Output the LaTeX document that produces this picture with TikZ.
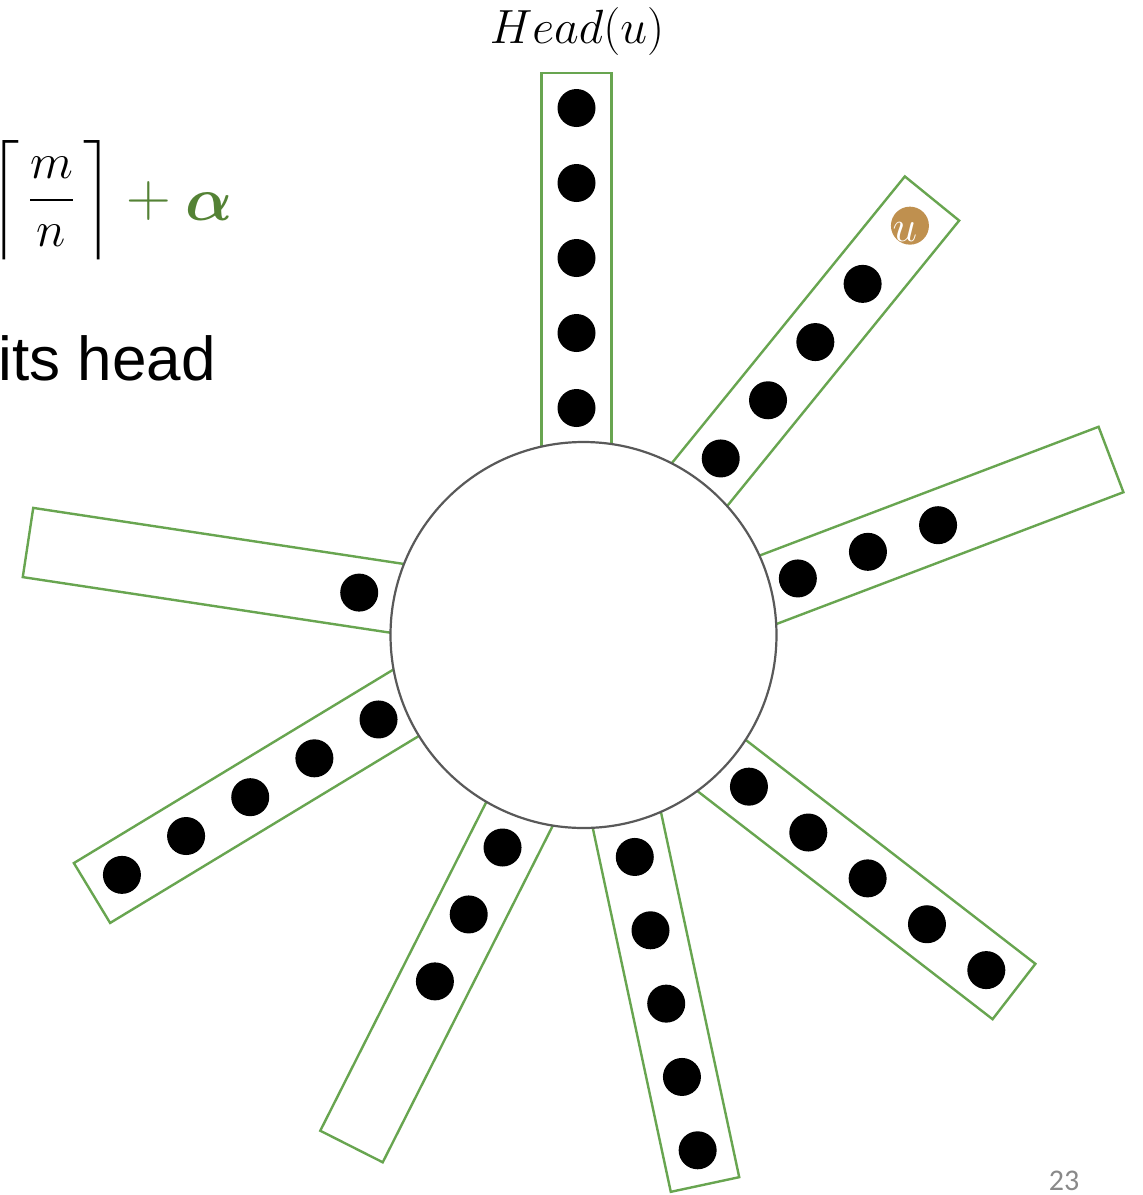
\RequirePackage{fix-cm}
\documentclass[tikz,border=0pt]{standalone}
\usepackage{amsmath}
\usepackage{amsbsy}
\usepackage{fontspec}
\newfontfamily\arialfont{Liberation Sans}
\newfontfamily\calfont{Carlito}
\definecolor{spokegreen}{RGB}{104,165,80}
\definecolor{textgreen}{RGB}{84,130,53}
\definecolor{ubrown}{RGB}{191,144,79}
\definecolor{pagegray}{RGB}{137,137,137}
\tikzset{
  spokeline/.style={draw=spokegreen, line width=1.2pt, fill=white},
  dotnode/.style={circle, fill=black, inner sep=0pt, minimum size=19pt},
  udot/.style={circle, fill=ubrown, inner sep=0pt, minimum size=19pt},
  hubnode/.style={circle, draw=black!65, line width=1.1pt, fill=white, inner sep=0pt, minimum size=193pt}
}
\newcommand{\myspoke}[5]{%
  \begin{scope}[shift={(#2,#3)}, rotate=#4]
    \draw[spokeline] (0,-35) rectangle (-480,35);
    \foreach \k in {#5} {\node[dotnode] (#1-\k) at ({-35-75*(\k-1)},0) {};}
  \end{scope}}
\begin{document}
\begin{tikzpicture}[x=0.5pt, y=-0.5pt]
\useasboundingbox (0,0) rectangle (1143,1195);
\clip (0,0) rectangle (1143,1195);
% spokes
\myspoke{T}{576.5}{73}{90}{1,2,3,4,5}
\begin{scope}[shift={(932,198.5)}, rotate=50.9]
  \draw[spokeline] (0,-35) rectangle (-480,35);
  \node[udot] (UR-1) at (-35,0) {};
  \foreach \k in {2,3,4,5} {\node[dotnode] (UR-\k) at ({-35-75*(\k-1)},0) {};}
\end{scope}
\node[text=white, inner sep=0pt] (ulabel) at (905,232) {\fontsize{22}{26}\selectfont $u$};
\myspoke{R}{1111}{459.5}{20.8}{3,4,5}
\myspoke{L}{28}{542.5}{171.4}{5}
\myspoke{LL}{92}{893}{211.2}{1,2,3,4,5}
\myspoke{BL}{351.5}{1146.5}{243.2}{3,4,5}
\myspoke{B}{705}{1184.5}{282.1}{1,2,3,4,5}
\myspoke{LR}{1014}{991.5}{322.3}{1,2,3,4,5}
% hub
\node[hubnode] (hub) at (583.5,635) {};
% texts
\node[anchor=base, inner sep=0pt] (head) at (577,43) {\fontsize{24}{28}\selectfont $Head(u)$};
\node[anchor=east, inner sep=0pt] (frac) at (113,200)
  {\fontsize{25}{30}\selectfont $\left\lceil\mkern3mu \vrule width 0pt height 32pt depth 20pt \dfrac{m}{n}\mkern3mu\right\rceil$};
\node[inner sep=0pt, text=textgreen] (plus) at (149,201) {\fontsize{31}{36}\selectfont $+$};
\node[anchor=base, inner sep=0pt, text=textgreen] (alpha) at (209,220) {\fontsize{31}{36}\selectfont $\boldsymbol{\alpha}$};
\node[anchor=base east, inner sep=0pt] (itshead) at (216,380) {\arialfont\fontsize{31}{37}\selectfont its head};
\node[anchor=base, inner sep=0pt, text=pagegray] (page) at (1064,1190) {\calfont\fontsize{15}{18}\selectfont 23};
\end{tikzpicture}
\end{document}
